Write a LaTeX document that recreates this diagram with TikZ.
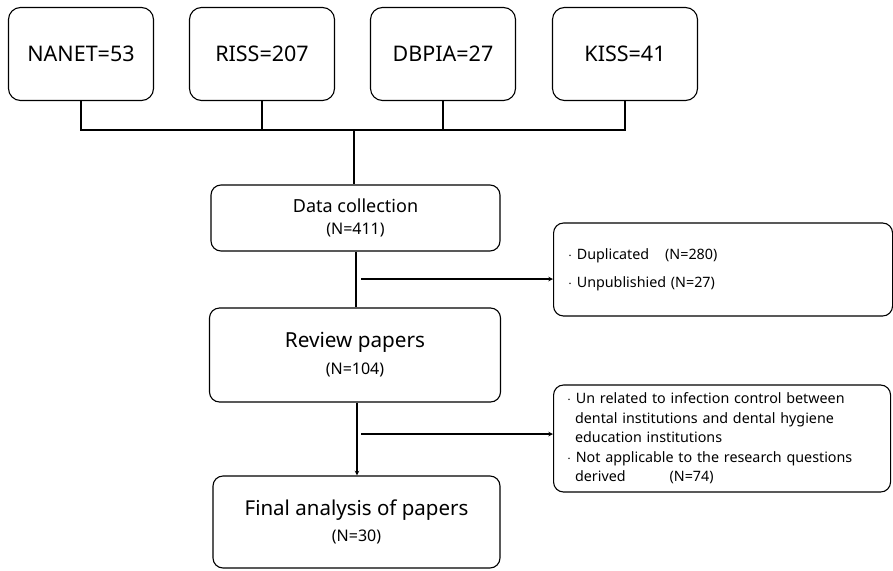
\documentclass[tikz,border=0pt]{standalone}
\usepackage{fontspec}
\setmainfont{Noto Sans}
\usetikzlibrary{arrows}

\tikzset{
  srcbox/.style={draw,rounded corners=12pt,minimum width=145pt,minimum height=93pt,
    font=\fontsize{21.5}{26}\selectfont},
  stagebox/.style={draw,rounded corners=10pt,align=center},
  notebox/.style={draw,rounded corners=10pt,align=left,anchor=west,inner xsep=12pt,
    font=\fontsize{14.3}{19.5}\selectfont}
}
\newcommand{\nsub}[1]{{\fontsize{16}{20}\selectfont #1}}

\begin{document}
\begin{tikzpicture}[x=1pt,y=-1pt,line width=1.1pt]
  \useasboundingbox (0,0) rectangle (893,570);
  % sources
  \node[srcbox] (nanet) at (81,54)  {NANET=53};
  \node[srcbox] (riss)  at (262,54) {RISS=207};
  \node[srcbox] (dbpia) at (443,54) {DBPIA=27};
  \node[srcbox] (kiss)  at (625,54) {KISS=41};
  % stages
  \node[stagebox,minimum width=289pt,minimum height=66pt,font=\fontsize{18}{22}\selectfont]
    (collect) at (355.5,218) {Data collection\\\nsub{(N=411)}};
  \node[stagebox,minimum width=291pt,minimum height=94pt,font=\fontsize{20.7}{27}\selectfont]
    (review) at (355,355) {Review papers\\\nsub{(N=104)}};
  \node[stagebox,minimum width=287pt,minimum height=92pt,font=\fontsize{20.5}{26}\selectfont]
    (final) at (356.5,522) {Final analysis of papers\\\nsub{(N=30)}};
  % exclusions
  \node[notebox,minimum width=339pt,minimum height=93pt,text width=310pt,
    font=\fontsize{14.3}{28}\selectfont]
    (dup) at (553,269.5) {$\cdot$ Duplicated\hspace{16pt}(N=280)\\$\cdot$ Unpublishied (N=27)};
  \node[notebox,minimum width=337pt,minimum height=107pt,text width=310pt]
    (unrel) at (553,438.5) {$\cdot$ Un related to infection control between\\
    \hspace{8pt}dental institutions and dental hygiene\\
    \hspace{8pt}education institutions\\
    $\cdot$ Not applicable to the research questions\\
    \hspace{8pt}derived\hspace{44pt}(N=74)};

  \coordinate (join) at (354,130);
  \coordinate (cut1) at (361,279);
  \coordinate (cut2) at (361,434);

  \draw (nanet.south) |- (join) -| (kiss.south);
  \draw (riss.south) -- (riss.south |- join);
  \draw (dbpia.south) -- (dbpia.south |- join);
  \draw (join) -- (join |- collect.north);
  \draw (collect.south -| 356,0) -- (review.north -| 356,0);
  \path[-stealth]
    (review.south -| 357,0) edge (final.north -| 357,0)
    (cut1) edge (cut1 -| dup.west)
    (cut2) edge (cut2 -| unrel.west);
\end{tikzpicture}
\end{document}
